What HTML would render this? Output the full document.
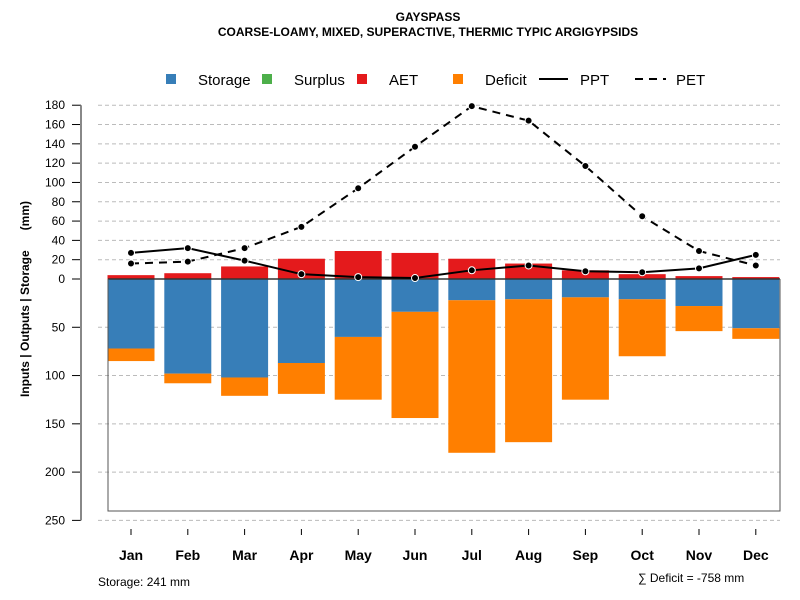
<!DOCTYPE html>
<html><head><meta charset="utf-8"><style>
body{margin:0;background:#fff}
svg{display:block;font-family:"Liberation Sans",Arial,sans-serif}
</style></head><body>
<svg id="chart" width="800" height="600" viewBox="0 0 800 600">
<text x="428" y="21" text-anchor="middle" font-size="12" font-weight="bold">GAYSPASS</text>
<text x="428" y="36" text-anchor="middle" font-size="12" font-weight="bold">COARSE-LOAMY, MIXED, SUPERACTIVE, THERMIC TYPIC ARGIGYPSIDS</text>
<g font-size="15">
 <g><rect x="166" y="74" width="10" height="10" fill="#377eb8"/><text x="198" y="85">Storage</text></g>
 <g><rect x="262" y="74" width="10" height="10" fill="#4daf4a"/><text x="294" y="85">Surplus</text></g>
 <g><rect x="357" y="74" width="10" height="10" fill="#e41a1c"/><text x="389" y="85">AET</text></g>
 <g><rect x="453" y="74" width="10" height="10" fill="#ff7f00"/><text x="485" y="85">Deficit</text></g>
 <g><line x1="539" y1="79" x2="568" y2="79" stroke="#000" stroke-width="2"/><text x="580" y="85">PPT</text></g>
 <g><line x1="635" y1="79" x2="666" y2="79" stroke="#000" stroke-width="2" stroke-dasharray="8,6"/><text x="676" y="85">PET</text></g>
</g>
<g id="grid"></g>
<g id="bars"></g>
<g id="lines"></g>
<g id="axes"></g>
<text transform="translate(29,299) rotate(-90)" text-anchor="middle" font-size="12" font-weight="bold" xml:space="preserve" style="white-space:pre">Inputs | Outputs | Storage      (mm)</text>
<text x="98" y="586" font-size="12">Storage: 241 mm</text>
<text x="638" y="582" font-size="12">∑ Deficit = -758 mm</text>
</svg>
<script>
const months=["Jan","Feb","Mar","Apr","May","Jun","Jul","Aug","Sep","Oct","Nov","Dec"];
const storage=[72,98,102,87,60,34,22,21,19,21,28,51];
const deficit=[13,10,19,32,65,110,158,148,106,59,26,11];
const aet=[4,6,13,21,29,27,21,16,9,5,3,2];
const ppt=[27,32,19,5,2,1,9,14,8,7,11,25];
const pet=[16,18,32,54,94,137,179,164,117,65,29,14];
const upTicks=[0,20,40,60,80,100,120,140,160,180];
const downTicks=[50,100,150,200,250];
const NS="http://www.w3.org/2000/svg";
const y0=279,k=0.9655;
const yUp=v=>y0-v*k, yDn=v=>y0+v*k;
const xC=i=>131+i*56.8, bw=47;
function mk(tag,attrs,parent){const e=document.createElementNS(NS,tag);for(const a in attrs)e.setAttribute(a,attrs[a]);document.getElementById(parent).appendChild(e);return e;}
upTicks.forEach(t=>{
 if(t>0){const g=mk('line',{x1:98,x2:780,y1:yUp(t),y2:yUp(t),stroke:'#bbb','stroke-dasharray':'4,3'},'grid');
 
 }
 const tk=mk('line',{x1:72,x2:81,y1:yUp(t),y2:yUp(t),stroke:'#000'},'axes');
 
 
 const l=mk('text',{x:65,y:yUp(t)+4,'text-anchor':'end','font-size':12},'axes');l.textContent=t;
 
 
});
downTicks.forEach(t=>{
 const g=mk('line',{x1:98,x2:780,y1:yDn(t),y2:yDn(t),stroke:'#bbb','stroke-dasharray':'4,3'},'grid');
 
 
 const tk=mk('line',{x1:72,x2:81,y1:yDn(t),y2:yDn(t),stroke:'#000'},'axes');
 
 
 const l=mk('text',{x:65,y:yDn(t)+4,'text-anchor':'end','font-size':12},'axes');l.textContent=t;
 
 
});
const ax=mk('line',{x1:81,x2:81,y1:yUp(180),y2:yDn(250),stroke:'#888','stroke-width':2},'axes');


const box=mk('polyline',{points:`108,${y0} 108,511 780,511 780,${y0}`,fill:'none',stroke:'#555'},'axes');


months.forEach((m,i)=>{
 const x=xC(i);
 const s=mk('rect',{x:x-bw/2,y:y0,width:bw,height:storage[i]*k,fill:'#377eb8'},'bars');
 
 
 const d=mk('rect',{x:x-bw/2,y:yDn(storage[i]),width:bw,height:deficit[i]*k,fill:'#ff7f00'},'bars');
 
 
 const a=mk('rect',{x:x-bw/2,y:yUp(aet[i]),width:bw,height:aet[i]*k,fill:'#e41a1c'},'bars');
 
 
 const tk=mk('line',{x1:x,x2:x,y1:529,y2:535,stroke:'#000'},'axes');
 
 
 const l=mk('text',{x:x,y:560,'text-anchor':'middle','font-size':14,'font-weight':'bold'},'axes');l.textContent=m;
 
 
});
const zl=mk('line',{x1:108,x2:780,y1:y0,y2:y0,stroke:'#333','stroke-width':1.5},'bars');


function series(vals,name,dash){
 const pts=vals.map((v,i)=>xC(i)+','+yUp(v)).join(' ');
 const p=mk('polyline',{points:pts,fill:'none',stroke:'#000','stroke-width':2,'stroke-dasharray':dash||'none'},'lines');
 
 
 vals.forEach((v,i)=>{
  const c=mk('circle',{cx:xC(i),cy:yUp(v),r:3.5,fill:'#000',stroke:'#fff','stroke-width':1},'lines');
  
  
 });
}
series(ppt,'ppt');
series(pet,'pet','8,6');
</script>
</body></html>
